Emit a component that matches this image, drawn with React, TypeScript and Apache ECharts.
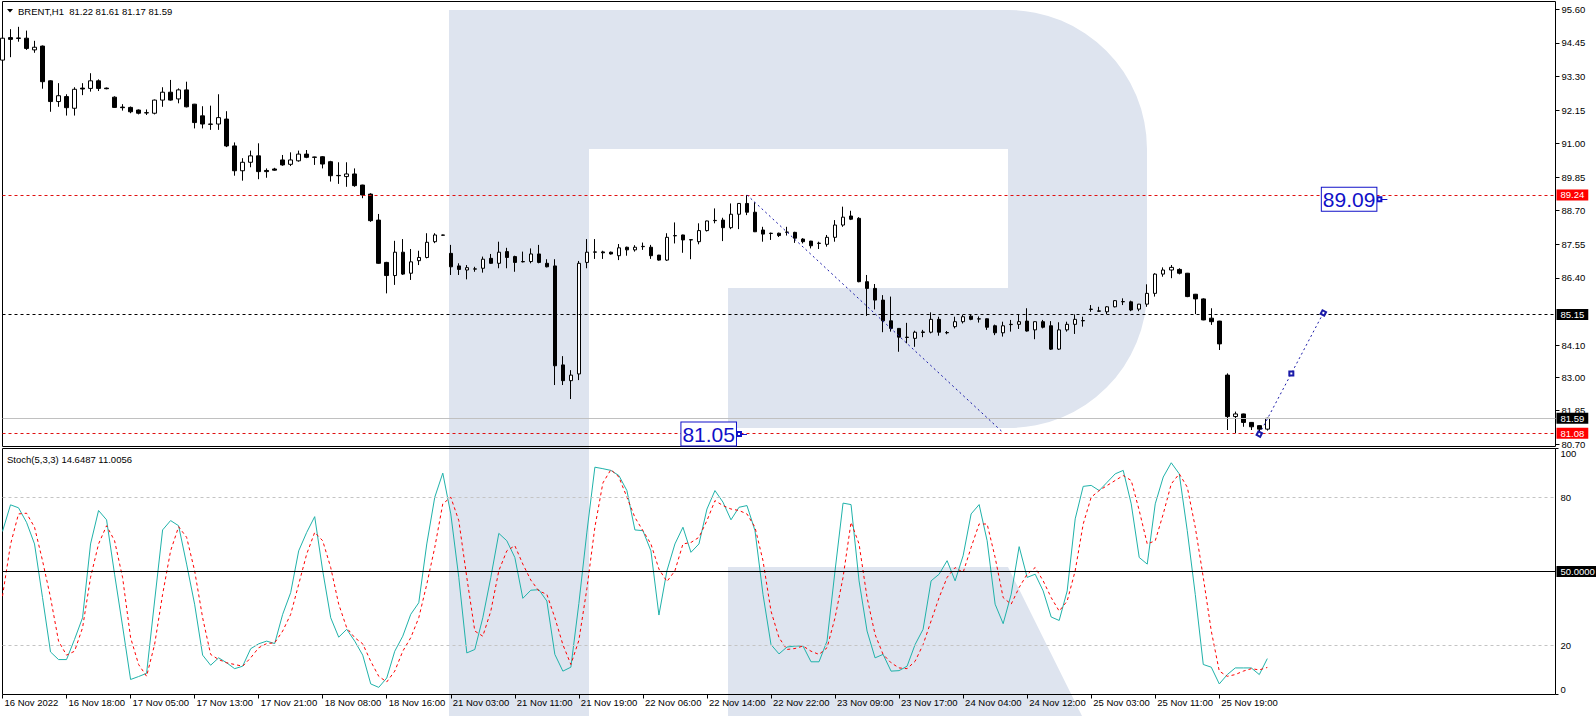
import React, { useEffect, useRef } from "react";
import * as echarts from "echarts";

const FONT = '"Liberation Sans", Arial, sans-serif';

const opens = [
  93.86, 94.63, 94.60, 94.61, 94.21, 94.34, 93.15, 92.44, 92.61, 92.21,
  92.90, 92.89, 93.15, 92.90, 92.59, 92.25, 92.24, 92.15, 92.05, 92.04,
  92.49, 92.76, 92.53, 92.84, 92.35, 91.95, 91.67, 91.67, 91.84, 90.92,
  90.07, 90.36, 90.58, 90.08, 90.13, 90.44, 90.29, 90.41, 90.64, 90.54,
  90.55, 90.38, 89.91, 89.87, 89.96, 89.58, 89.27, 88.38, 86.93, 86.48,
  87.28, 86.56, 86.99, 87.10, 87.64, 87.86, 87.24, 86.81, 86.67, 86.70,
  86.73, 87.07, 86.90, 87.30, 87.13, 86.96, 86.96, 87.22, 86.90, 86.81,
  83.42, 82.88, 83.11, 86.93, 87.28, 87.29, 87.28, 87.16, 87.45, 87.36,
  87.47, 87.45, 87.18, 87.01, 87.84, 87.87, 87.71, 87.64, 88.02, 88.37,
  88.38, 88.12, 88.58, 88.95, 88.65, 88.04, 87.93, 87.93, 87.96, 87.96,
  87.73, 87.66, 87.58, 87.55, 87.79, 88.21, 88.52, 88.44, 86.27, 86.04,
  85.64, 84.93, 84.67, 84.37, 84.33, 84.53, 84.54, 84.98, 84.53, 84.73,
  84.90, 85.09, 84.99, 85.00, 84.76, 84.52, 84.80, 84.81, 84.92, 84.62,
  84.90, 84.76, 83.96, 84.62, 84.81, 84.93, 85.32, 85.27, 85.24, 85.41,
  85.58, 85.58, 85.33, 85.50, 85.87, 86.53, 86.67, 86.69, 86.56, 85.84,
  85.68, 85.02, 84.92, 83.07, 81.65, 81.74, 81.45, 81.34, 81.22,
];
const highs = [
  95.10, 94.92, 95.00, 94.87, 94.52, 94.36, 93.17, 93.07, 92.69, 92.93,
  93.07, 93.41, 93.20, 92.92, 92.62, 92.35, 92.27, 92.17, 92.17, 92.51,
  92.93, 93.18, 92.89, 93.12, 92.36, 92.28, 92.30, 92.69, 92.11, 91.04,
  90.50, 90.76, 91.01, 90.15, 90.17, 90.61, 90.70, 90.76, 90.78, 90.55,
  90.57, 90.41, 90.36, 90.36, 90.15, 89.59, 89.30, 88.59, 86.95, 87.67,
  87.73, 87.39, 87.33, 87.93, 87.93, 87.88, 87.53, 86.90, 86.84, 86.78,
  87.13, 87.22, 87.64, 87.43, 87.16, 87.30, 87.41, 87.53, 87.04, 87.04,
  83.72, 83.24, 86.98, 87.73, 87.73, 87.33, 87.30, 87.56, 87.47, 87.52,
  87.61, 87.53, 87.19, 87.93, 88.30, 87.88, 87.72, 88.27, 88.36, 88.78,
  88.46, 88.95, 88.96, 89.24, 88.99, 88.15, 87.95, 87.95, 88.15, 87.98,
  87.76, 87.67, 87.64, 87.87, 88.38, 88.84, 88.70, 88.48, 86.50, 86.19,
  85.81, 85.76, 84.68, 84.86, 84.59, 84.62, 85.22, 85.07, 84.58, 85.07,
  85.13, 85.13, 85.08, 85.01, 84.80, 84.90, 84.96, 85.16, 85.36, 84.91,
  84.96, 84.92, 84.88, 84.90, 85.15, 85.07, 85.47, 85.41, 85.43, 85.64,
  85.70, 85.62, 85.51, 86.18, 86.56, 86.76, 86.84, 86.73, 86.57, 85.85,
  85.70, 85.36, 84.93, 83.13, 81.82, 81.75, 81.46, 81.35, 81.61,
];
const lows = [
  93.80, 93.96, 94.49, 94.21, 94.11, 92.88, 92.09, 92.26, 91.96, 91.96,
  92.66, 92.78, 92.80, 92.86, 92.22, 92.13, 92.04, 92.00, 91.98, 92.00,
  92.26, 92.47, 92.38, 92.24, 91.52, 91.52, 91.47, 91.47, 90.88, 89.90,
  89.73, 90.19, 89.78, 89.83, 90.07, 90.24, 90.23, 90.38, 90.50, 90.27,
  90.15, 89.70, 89.62, 89.52, 89.52, 89.13, 88.32, 86.88, 85.87, 86.16,
  86.50, 86.33, 86.84, 87.07, 87.59, 87.84, 86.50, 86.50, 86.35, 86.61,
  86.58, 86.88, 86.73, 86.73, 86.61, 86.93, 86.90, 86.90, 86.76, 82.73,
  82.73, 82.25, 82.90, 86.73, 87.05, 87.05, 87.20, 87.01, 87.16, 87.30,
  87.36, 87.05, 86.99, 86.98, 87.58, 87.26, 87.04, 87.55, 87.99, 88.27,
  87.66, 88.07, 88.07, 88.55, 87.97, 87.64, 87.70, 87.80, 87.85, 87.60,
  87.58, 87.41, 87.39, 87.47, 87.64, 88.15, 88.38, 86.25, 85.10, 85.32,
  84.54, 84.56, 83.87, 84.16, 84.04, 84.37, 84.50, 84.42, 84.47, 84.67,
  84.84, 84.95, 84.87, 84.62, 84.44, 84.39, 84.56, 84.65, 84.56, 84.30,
  84.67, 83.93, 83.93, 84.56, 84.48, 84.73, 85.24, 85.24, 85.16, 85.39,
  85.47, 85.26, 85.26, 85.41, 85.76, 86.44, 86.39, 86.52, 85.74, 85.16,
  84.95, 84.79, 83.93, 81.19, 81.08, 81.30, 81.19, 81.07, 81.17,
];
const closes = [
  94.61, 94.57, 94.62, 94.26, 94.30, 93.12, 92.44, 92.64, 92.23, 92.86,
  92.87, 93.15, 92.89, 92.88, 92.24, 92.23, 92.09, 92.04, 92.06, 92.49,
  92.76, 92.49, 92.84, 92.26, 91.72, 91.67, 91.66, 91.89, 90.92, 90.07,
  90.36, 90.58, 90.04, 90.04, 90.09, 90.27, 90.44, 90.64, 90.53, 90.53,
  90.30, 89.90, 89.90, 89.96, 89.56, 89.24, 88.36, 86.90, 86.48, 87.28,
  86.53, 86.95, 87.10, 87.62, 87.87, 87.87, 86.78, 86.69, 86.75, 86.71,
  87.04, 86.90, 87.28, 87.10, 86.93, 86.95, 87.22, 86.93, 86.78, 83.39,
  82.88, 83.07, 86.90, 87.28, 87.29, 87.26, 87.22, 87.43, 87.36, 87.45,
  87.48, 87.16, 87.01, 87.79, 87.85, 87.70, 87.70, 88.02, 88.35, 88.36,
  88.12, 88.58, 88.95, 88.65, 87.98, 87.90, 87.92, 87.85, 87.97, 87.76,
  87.64, 87.50, 87.59, 87.79, 88.21, 88.48, 88.41, 86.27, 86.04, 85.64,
  84.93, 84.67, 84.37, 84.36, 84.54, 84.55, 84.98, 84.54, 84.52, 84.90,
  85.07, 84.98, 85.00, 84.71, 84.52, 84.76, 84.81, 84.90, 84.58, 84.90,
  84.71, 83.96, 84.62, 84.81, 84.98, 84.94, 85.33, 85.26, 85.41, 85.62,
  85.59, 85.30, 85.50, 85.87, 86.53, 86.67, 86.76, 86.56, 85.76, 85.68,
  84.96, 84.90, 84.14, 81.65, 81.74, 81.45, 81.30, 81.22, 81.59,
];

const stochMain = [
  66.3, 77.1, 75.9, 70.0, 61.2, 39.4, 17.3, 14.2, 14.2, 22.4,
  31.2, 61.2, 74.8, 71.0, 48.9, 27.8, 6.1, 7.3, 8.6, 38.0,
  66.9, 70.7, 68.6, 53.0, 36.7, 16.0, 11.9, 14.9, 12.9, 10.5,
  11.5, 18.6, 20.6, 21.7, 20.7, 32.6, 41.4, 58.4, 65.9, 72.3,
  50.3, 31.2, 23.3, 26.5, 21.7, 16.0, 4.3, 2.9, 6.7, 17.6,
  23.7, 32.6, 37.3, 61.2, 80.2, 90.0, 73.4, 47.6, 16.9, 18.3,
  31.2, 47.6, 65.5, 62.5, 55.7, 39.1, 42.4, 42.6, 38.0, 16.3,
  9.5, 11.1, 37.0, 66.0, 92.4, 91.8, 91.1, 89.0, 82.9, 66.9,
  66.6, 58.4, 32.3, 50.3, 61.2, 68.0, 57.8, 61.2, 75.4, 82.9,
  78.2, 71.0, 76.1, 76.8, 66.6, 40.7, 20.3, 16.5, 19.3, 19.7,
  19.7, 13.3, 13.3, 21.7, 50.3, 77.8, 77.2, 46.2, 25.8, 14.9,
  16.3, 9.5, 9.7, 11.5, 20.3, 26.5, 46.2, 48.9, 54.4, 46.2,
  56.4, 73.4, 77.2, 62.5, 36.7, 28.8, 40.7, 60.1, 47.6, 48.9,
  42.1, 31.5, 30.1, 42.1, 71.4, 84.6, 85.0, 82.9, 86.3, 89.7,
  91.1, 77.5, 55.7, 53.0, 77.5, 88.4, 94.2, 89.7, 66.6, 40.7,
  12.2, 11.1, 4.3, 8.1, 10.8, 10.8, 10.8, 8.1, 14.6,
];
const stochSignal = [
  40.0, 61.0, 73.4, 73.7, 68.0, 54.4, 39.4, 21.7, 16.0, 17.6,
  27.1, 47.6, 61.2, 68.6, 62.5, 47.6, 23.1, 12.2, 7.4, 20.3,
  40.7, 58.4, 68.2, 63.9, 50.3, 31.2, 16.3, 14.2, 12.9, 12.2,
  11.5, 14.9, 19.0, 20.7, 21.0, 25.8, 32.6, 44.8, 57.1, 65.9,
  62.5, 51.6, 36.7, 27.1, 23.1, 20.6, 13.5, 7.4, 5.1, 9.5,
  17.6, 23.1, 31.2, 44.8, 59.8, 77.5, 80.2, 70.7, 47.6, 25.8,
  23.7, 33.9, 50.3, 58.4, 60.5, 53.0, 46.5, 42.1, 40.7, 31.2,
  20.3, 12.2, 22.0, 43.0, 68.0, 86.0, 91.4, 88.4, 80.2, 72.0,
  66.6, 61.2, 51.0, 45.9, 50.3, 61.2, 61.8, 63.9, 70.7, 78.8,
  76.8, 75.4, 74.8, 73.4, 68.0, 54.4, 33.9, 23.1, 18.3, 18.7,
  19.7, 17.6, 16.3, 19.0, 31.2, 47.6, 70.0, 61.2, 39.4, 24.4,
  16.3, 12.9, 10.8, 10.5, 13.5, 20.3, 29.9, 39.4, 47.6, 51.6,
  49.6, 59.8, 69.3, 69.3, 55.7, 39.4, 36.7, 43.5, 48.9, 51.6,
  46.2, 39.4, 33.9, 38.0, 50.3, 69.3, 80.2, 82.9, 85.0, 87.0,
  89.0, 87.0, 74.8, 61.2, 62.5, 73.4, 85.6, 89.7, 84.3, 68.0,
  47.6, 25.8, 9.5, 7.4, 8.1, 9.5, 10.5, 10.0, 11.0,
];

const timeLabels = [
  "16 Nov 2022", "16 Nov 18:00", "17 Nov 05:00", "17 Nov 13:00", "17 Nov 21:00",
  "18 Nov 08:00", "18 Nov 16:00", "21 Nov 03:00", "21 Nov 11:00", "21 Nov 19:00",
  "22 Nov 06:00", "22 Nov 14:00", "22 Nov 22:00", "23 Nov 09:00", "23 Nov 17:00",
  "24 Nov 04:00", "24 Nov 12:00", "25 Nov 03:00", "25 Nov 11:00", "25 Nov 19:00",
];
const LABEL_STEP = 8;
const SLOT_COUNT = 195;

const priceTicks = [95.6, 94.45, 93.3, 92.15, 91.0, 89.85, 88.7, 87.55, 86.4, 84.1, 83.0, 81.85, 80.7];
const stochTickLabels = [0, 20, 80, 100];
const PRICE_MIN = 80.625;
const PRICE_MAX = 95.867;

const resistanceLevel = 89.24;
const pivotLevel = 85.15;
const bidLevel = 81.59;
const supportLevel = 81.08;
const trendDown = [[93, 89.24], [125, 81.1]];
const trendUp = [[157, 81.05], [165, 85.2]];
const targetLow = [92, 81.05];
const targetHigh = [172, 89.09];
const stochLevels = [80, 20];
const stochMid = 50;

const RED = "#e01010";
const BLUE = "#1010c8";
const LINE_BLUE = "#1a1aa8";
const LOGO_D =
  "M449 10 H1008 A139 139 0 0 1 1147 149 V290 A138 138 0 0 1 1009 428 H728 V288 H1008 V149 H589 V716 H449 Z M728 567 H1008 L1082 716 H728 Z";
echarts.graphic.registerShape("rlogo", echarts.graphic.extendPath(LOGO_D, {}));

const priceTag = (value: number, lineColor: string, lineType: any, bg: string) => ({
  yAxis: value,
  lineStyle: { color: lineColor, type: lineType, width: 1 },
  label: {
    show: true,
    position: "end",
    distance: 1,
    formatter: value.toFixed(2),
    color: "#fff",
    backgroundColor: bg,
    padding: [1, 4, 0, 4],
    lineHeight: 10,
    fontSize: 9.5,
    fontFamily: FONT,
  },
});

const targetLabel = (pt: number[]) => ({
  coord: pt,
  symbol: "emptyRect",
  symbolSize: 4,
  itemStyle: { color: BLUE },
  label: {
    show: true,
    position: "left",
    distance: 0,
    formatter: pt[1].toFixed(2),
    color: BLUE,
    fontSize: 21,
    lineHeight: 22,
    fontFamily: FONT,
    borderColor: BLUE,
    borderWidth: 1,
    padding: [1, 1, 0, 1],
    backgroundColor: "#fff",
  },
});

export default function App() {
  const ref = useRef<HTMLDivElement>(null);
  useEffect(() => {
    if (!ref.current) return;
    const chart = echarts.init(ref.current, null, { renderer: "svg" });
    const categories = Array.from({ length: SLOT_COUNT }, (_, i) => String(i));
    const isLabelSlot = (i: number) => i % LABEL_STEP === 0 && i / LABEL_STEP < timeLabels.length;
    const last = closes.length - 1;
    const header = `BRENT,H1  ${opens[last].toFixed(2)} ${highs[last].toFixed(2)} ${lows[last].toFixed(2)} ${closes[last].toFixed(2)}`;
    const midUp = [(trendUp[0][0] + trendUp[1][0]) / 2, (trendUp[0][1] + trendUp[1][1]) / 2];

    chart.setOption({
      animation: false,
      backgroundColor: "#ffffff",
      grid: [
        { left: 2.5, top: 1.5, width: 1553, height: 445, show: true, borderColor: "#000", borderWidth: 1, backgroundColor: "transparent" },
        { left: 2.5, top: 448.5, width: 1553, height: 246, show: true, borderColor: "#000", borderWidth: 1, backgroundColor: "transparent" },
      ],
      xAxis: [
        { type: "category", gridIndex: 0, data: categories, boundaryGap: false, show: false },
        {
          type: "category",
          gridIndex: 1,
          data: categories,
          boundaryGap: false,
          axisLine: { show: false },
          axisTick: { show: true, interval: (i: number) => isLabelSlot(i), length: 4, lineStyle: { color: "#000" } },
          axisLabel: {
            show: true,
            interval: (i: number) => isLabelSlot(i),
            formatter: (_v: string, i: number) => timeLabels[i / LABEL_STEP] ?? "",
            align: "left",
            margin: 3,
            padding: [0, 0, 0, 2],
            color: "#000",
            fontSize: 9.5,
            fontFamily: FONT,
          },
          splitLine: { show: false },
        },
      ],
      yAxis: [
        {
          type: "value",
          gridIndex: 0,
          position: "right",
          min: PRICE_MIN,
          max: PRICE_MAX,
          axisLine: { show: false },
          axisTick: { show: true, length: 4, lineStyle: { color: "#000" }, customValues: priceTicks },
          axisLabel: {
            show: true,
            margin: 6,
            color: "#000",
            fontSize: 9.5,
            fontFamily: FONT,
            customValues: priceTicks,
            formatter: (v: number) => v.toFixed(2),
          },
          splitLine: { show: false },
        },
        {
          type: "value",
          gridIndex: 1,
          position: "right",
          min: 0,
          max: 100,
          axisLine: { show: false },
          axisTick: { show: true, length: 3, lineStyle: { color: "#000" }, customValues: [0, 100] },
          axisLabel: {
            show: true,
            margin: 5,
            color: "#000",
            fontSize: 9.5,
            fontFamily: FONT,
            customValues: stochTickLabels,
            verticalAlignMaxLabel: "top",
            verticalAlignMinLabel: "bottom",
            formatter: (v: number) => String(v),
          },
          splitLine: { show: false },
        },
      ],
      graphic: [
        { type: "rlogo", x: 0, y: 0, z: -10, silent: true, style: { fill: "#dee4ef" } },
        { type: "polygon", z: 10, silent: true, shape: { points: [[7, 9], [13, 9], [10, 12.5]] }, style: { fill: "#000" } },
        {
          type: "text", z: 10, x: 18, y: 11, silent: true,
          style: { text: header, fill: "#000", font: `9.5px ${FONT}`, verticalAlign: "middle" },
        },
        {
          type: "text", z: 10, x: 7, y: 459, silent: true,
          style: { text: "Stoch(5,3,3) 14.6487 11.0056", fill: "#000", font: `9.5px ${FONT}`, verticalAlign: "middle" },
        },
      ],
      series: [
        {
          type: "candlestick",
          xAxisIndex: 0,
          yAxisIndex: 0,
          barWidth: 4,
          data: opens.map((o, i) => [o, closes[i], lows[i], highs[i]]),
          itemStyle: {
            color: "#ffffff",
            color0: "#000000",
            borderColor: "#000000",
            borderColor0: "#000000",
            borderColorDoji: "#000000",
            borderWidth: 1,
          },
          markLine: {
            silent: true,
            animation: false,
            symbol: ["none", "none"],
            data: [
              priceTag(resistanceLevel, RED, [3, 3], "#ff0000"),
              priceTag(pivotLevel, "#000", [3, 3], "#000"),
              priceTag(bidLevel, "#c0c0c0", "solid", "#000"),
              priceTag(supportLevel, RED, [3, 3], "#ff0000"),
              [
                { coord: trendDown[0], lineStyle: { color: LINE_BLUE, type: [2, 3], width: 1 }, label: { show: false } },
                { coord: trendDown[1] },
              ],
              [
                { coord: trendUp[0], symbol: "emptyRect", symbolSize: 4, lineStyle: { color: LINE_BLUE, type: [2, 3], width: 1 }, label: { show: false } },
                { coord: trendUp[1], symbol: "emptyRect", symbolSize: 4 },
              ],
              [
                { coord: targetLow, lineStyle: { color: BLUE, type: "solid", width: 1 }, label: { show: false } },
                { coord: [targetLow[0] + 1, targetLow[1]] },
              ],
              [
                { coord: targetHigh, lineStyle: { color: BLUE, type: "solid", width: 1 }, label: { show: false } },
                { coord: [targetHigh[0] + 1, targetHigh[1]] },
              ],
            ],
          },
          markPoint: {
            silent: true,
            animation: false,
            data: [
              targetLabel(targetLow),
              targetLabel(targetHigh),
              { coord: midUp, symbol: "emptyRect", symbolSize: 4, itemStyle: { color: LINE_BLUE }, label: { show: false } },
            ],
          },
        },
        {
          type: "line",
          xAxisIndex: 1,
          yAxisIndex: 1,
          data: stochMain,
          symbol: "none",
          showSymbol: false,
          lineStyle: { color: "#20b2aa", width: 1 },
          markLine: {
            silent: true,
            animation: false,
            symbol: ["none", "none"],
            data: [
              ...stochLevels.map((v) => ({ yAxis: v, lineStyle: { color: "#c4c4c4", type: [3, 3], width: 1 }, label: { show: false } })),
              {
                yAxis: stochMid,
                lineStyle: { color: "#000", type: "solid", width: 1 },
                label: {
                  show: true,
                  position: "end",
                  distance: 1,
                  formatter: stochMid.toFixed(4),
                  color: "#fff",
                  backgroundColor: "#000",
                  padding: [1, 4, 0, 4],
                  lineHeight: 10,
                  fontSize: 9.5,
                  fontFamily: FONT,
                },
              },
            ],
          },
        },
        {
          type: "line",
          xAxisIndex: 1,
          yAxisIndex: 1,
          data: stochSignal,
          symbol: "none",
          showSymbol: false,
          lineStyle: { color: "#ff0000", width: 1, type: [3, 3] },
        },
      ],
    });
    return () => chart.dispose();
  }, []);

  return (
    <div
      ref={ref}
      style={{ position: "absolute", left: 0, top: 0, width: 1596, height: 716, background: "#fff" }}
    />
  );
}
